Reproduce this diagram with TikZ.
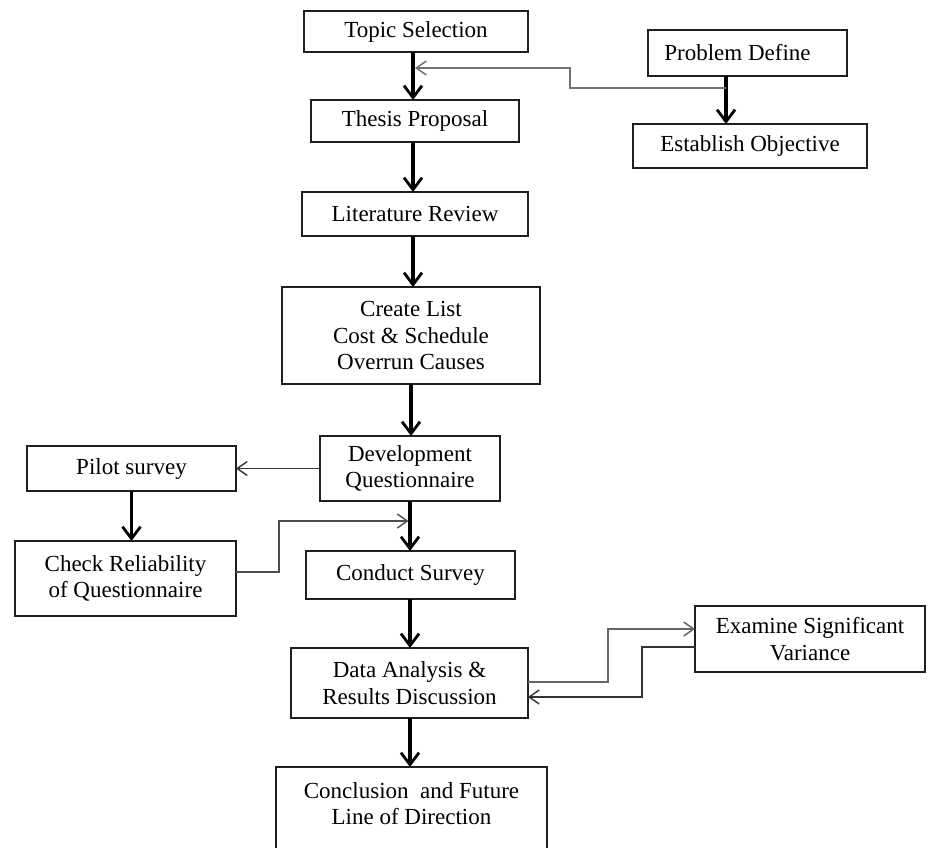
\documentclass[tikz,border=0pt]{standalone}
\usepackage{fontspec}
\setmainfont{Liberation Serif}
\usetikzlibrary{arrows.meta}
\begin{document}
\begin{tikzpicture}[x=1pt,y=-1pt,
  box/.style={draw=black!88, line width=1.5pt, inner sep=0pt, outer sep=0pt, align=center,
    font=\fontsize{23}{26.5}\selectfont},
  mainarr/.style={draw=black, line width=3.2pt, -{Straight Barb[length=12pt,width=18pt,line width=2.8pt]}},
  thinarr/.style={draw=black!80, line width=1.6pt, -{Straight Barb[length=10pt,width=14pt,line width=1.4pt]}},
  greyarr/.style={draw=black!55, line width=2pt, -{Straight Barb[length=10pt,width=14pt,line width=1.5pt]}}]
\clip (0,0) rectangle (929,848);
\fill[white] (0,0) rectangle (929,848);

% main column
\node[box, minimum width=224, minimum height=41] (topic) at (416,31.5) {Topic Selection};
\node[box, minimum width=208, minimum height=42] (thesis) at (415,121) {Thesis Proposal};
\node[box, minimum width=226, minimum height=44] (lit) at (415,214) {Literature Review};
\node[box, minimum width=258, minimum height=97] (create) at (411,335.5) {Create List\\Cost \& Schedule\\Overrun Causes};
\node[box, minimum width=180, minimum height=65] (dev) at (410,468.5) {Development\\Questionnaire};
\node[box, minimum width=209, minimum height=48] (conduct) at (410.5,575) {Conduct Survey};
\node[box, minimum width=237, minimum height=70] (data) at (409.5,683) {Data Analysis \&\\Results Discussion};
\node[box, minimum width=271, anchor=north, text height=31pt, text depth=82pt] (concl) at (411.5,767)
  {\begin{tabular}[t]{@{}c@{}}Conclusion\ \ and Future\\Line of Direction\end{tabular}};

% side boxes
\node[box, minimum width=199, minimum height=46] (pd) at (747.5,53) {Problem Define\hspace{20pt}};
\node[box, minimum width=234, minimum height=44] (est) at (750,146) {Establish Objective};
\node[box, minimum width=209, minimum height=45] (pilot) at (131.5,468.5) {Pilot survey};
\node[box, minimum width=221, minimum height=75] (check) at (125.5,578.5) {Check Reliability\\of Questionnaire};
\node[box, minimum width=230, minimum height=66] (ex) at (810,639) {Examine Significant\\Variance};

% main arrows
\draw[mainarr] ([xshift=-3pt]topic.south) -- ([xshift=-3pt]topic.south |- thesis.north);
\draw[mainarr] ([xshift=-2pt]thesis.south) -- ([xshift=-2pt]thesis.south |- lit.north);
\draw[mainarr] ([xshift=-2pt]lit.south) -- ([xshift=-2pt]lit.south |- create.north);
\draw[mainarr] (create.south) -- (create.south |- dev.north);
\draw[mainarr] (dev.south) -- (dev.south |- conduct.north);
\draw[mainarr] ([xshift=-0.5pt]conduct.south) -- ([xshift=-0.5pt]conduct.south |- data.north);
\draw[mainarr] ([xshift=0.5pt]data.south) -- ([xshift=0.5pt]data.south |- concl.north);
\draw[mainarr] ([xshift=-21.5pt]pd.south) -- ([xshift=-21.5pt]pd.south |- est.north);
\draw[mainarr] (pilot.south) -- (pilot.south |- check.north);

% feedback connectors
\coordinate (g0) at (726,88);
\coordinate (m0) at (415,68);
\draw[greyarr] (g0) -- (570,88) -- (570,68) -- (m0);

\draw[thinarr] (dev.west) -- (pilot.east);

\coordinate (m1) at (408.5,521);
\draw[thinarr, draw=black!70] ([yshift=6.5pt]check.east) -- (279,572) -- (279,521) -- (m1);

\draw[greyarr, draw=black!60] ([yshift=1pt]data.east) -- (608,682) -- (608,629) -- ([yshift=10pt]ex.west);
\draw[thinarr] ([yshift=-8pt]ex.west) -- (642,647) -- (642,697) -- ([yshift=-14pt]data.east);
\end{tikzpicture}
\end{document}
